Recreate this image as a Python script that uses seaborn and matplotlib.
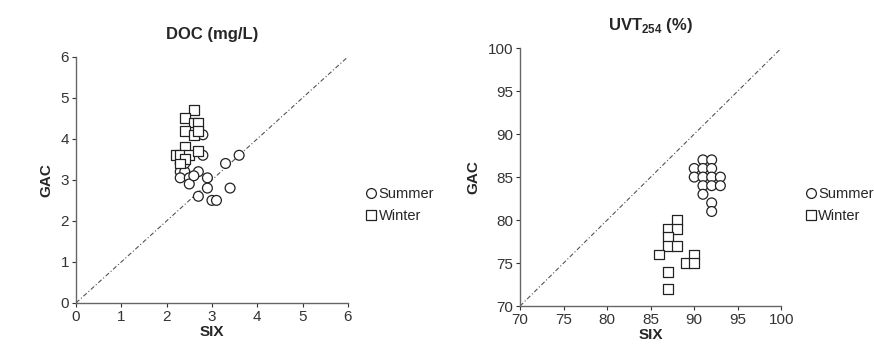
import numpy as np
import pandas as pd
import matplotlib
matplotlib.use("Agg")
import matplotlib.pyplot as plt
import seaborn as sns

# ------------------------------
# Data
# ------------------------------
doc_summer_six = [2.8, 2.8, 3.6, 3.3, 2.7, 2.3, 2.4, 2.3, 2.5, 2.5, 2.9, 2.9, 3.4, 2.7, 3.0, 3.1, 2.3, 2.4, 2.6]
doc_summer_gac = [4.1, 3.6, 3.6, 3.4, 3.2, 3.2, 3.2, 3.05, 3.05, 2.9, 3.05, 2.8, 2.8, 2.6, 2.5, 2.5, 3.4, 3.4, 3.1]
doc_winter_six = [2.6, 2.4, 2.6, 2.7, 2.4, 2.6, 2.7, 2.4, 2.2, 2.3, 2.5, 2.7, 2.4, 2.3]
doc_winter_gac = [4.7, 4.5, 4.4, 4.4, 4.2, 4.1, 4.2, 3.8, 3.6, 3.6, 3.6, 3.7, 3.5, 3.4]

uvt_summer_six = [91, 92, 90, 91, 92, 90, 91, 92, 93, 91, 92, 93, 91, 92, 92]
uvt_summer_gac = [87, 87, 86, 86, 86, 85, 85, 85, 85, 84, 84, 84, 83, 82, 81]
uvt_winter_six = [88, 87, 88, 87, 87, 88, 86, 89, 90, 90, 87, 87]
uvt_winter_gac = [80, 79, 79, 78, 77, 77, 76, 75, 76, 75, 74, 72]

doc_lim = [0, 6]
doc_ticks = [0, 1, 2, 3, 4, 5, 6]
uvt_lim = [70, 100]
uvt_ticks = [70, 75, 80, 85, 90, 95, 100]

seasons = ["Summer", "Winter"]


def make_df(s_six, s_gac, w_six, w_gac):
    return pd.DataFrame({
        "SIX": s_six + w_six,
        "GAC": s_gac + w_gac,
        "Season": ["Summer"] * len(s_six) + ["Winter"] * len(w_six),
    })


doc_df = make_df(doc_summer_six, doc_summer_gac, doc_winter_six, doc_winter_gac)
uvt_df = make_df(uvt_summer_six, uvt_summer_gac, uvt_winter_six, uvt_winter_gac)

# ------------------------------
# Style
# ------------------------------
sns.set_style("ticks")
plt.rcParams["font.family"] = ["Liberation Sans", "DejaVu Sans"]
plt.rcParams["mathtext.fontset"] = "custom"
plt.rcParams["mathtext.rm"] = "Liberation Sans"
plt.rcParams["mathtext.bf"] = "Liberation Sans:bold"

fig = plt.figure(figsize=(8.74, 3.51), dpi=100)
ax1 = fig.add_axes([0.087, 0.137, 0.311, 0.701])
ax2 = fig.add_axes([0.595, 0.128, 0.299, 0.735])

panels = [
    (ax1, doc_df, doc_lim, doc_ticks, "DOC (mg/L)", (0.410, 0.415)),
    (ax2, uvt_df, uvt_lim, uvt_ticks, r"UVT$_{\mathbf{254}}$ (%)", (0.913, 0.415)),
]

for ax, df, lim, ticks, title, leg_pos in panels:
    ax.plot(lim, lim, linestyle=(0, (4, 2, 1, 2)), color="#555555", linewidth=0.8, zorder=1)
    sns.scatterplot(data=df, x="SIX", y="GAC", style="Season", style_order=seasons,
                    markers={"Summer": "o", "Winter": "s"}, color="white",
                    edgecolor="#222222", linewidth=0.9, s=50, ax=ax, zorder=3)
    ax.set_xlim(lim)
    ax.set_ylim(lim)
    ax.set_xticks(ticks)
    ax.set_yticks(ticks)
    ax.set_title(title, fontsize=12, fontweight="bold", pad=13)
    ax.set_xlabel("SIX", fontsize=11, fontweight="bold", labelpad=1)
    ax.set_ylabel("GAC", fontsize=11, fontweight="bold", labelpad=5)
    ax.tick_params(labelsize=11, length=3, width=0.8, colors="#333333", pad=2)
    for side in ["left", "bottom"]:
        ax.spines[side].set_color("#666666")
        ax.spines[side].set_linewidth(1.0)
    sns.despine(ax=ax)
    handles, labels = ax.get_legend_handles_labels()
    ax.legend(handles, labels, loc="center left", bbox_to_anchor=leg_pos,
              bbox_transform=fig.transFigure, frameon=False, fontsize=10.5,
              handletextpad=0.0, handlelength=1.0, labelspacing=0.55,
              borderaxespad=0, title=None)

fig.savefig("out.png", dpi=100)
